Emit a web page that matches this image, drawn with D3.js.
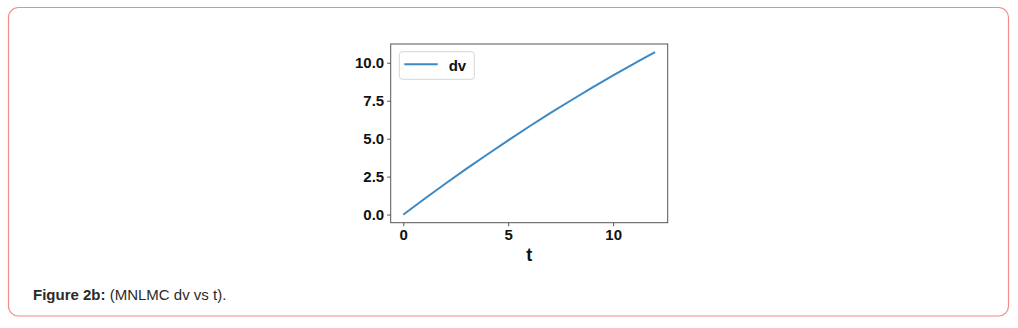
<!DOCTYPE html>
<html>
<head>
<meta charset="utf-8">
<script src="https://cdn.jsdelivr.net/npm/d3@7"></script>
<style>
  html, body { margin: 0; padding: 0; background: #fff; }
  svg { display: block; }
</style>
</head>
<body>
<svg id="chart" width="1018" height="328"></svg>
<script>
// ---- data ----
const tValues  = [0, 1, 2, 3, 4, 5, 6, 7, 8, 9, 10, 11, 12];
const dvValues = [0, 1.03, 2.03, 3.01, 3.96, 4.89, 5.80, 6.68, 7.53, 8.36, 9.17, 9.95, 10.70];
const xTicks = [0, 5, 10];
const yTicks = [0, 2.5, 5, 7.5, 10];
const seriesName = "dv";
const xLabel = "t";
const captionBold = "Figure 2b:";
const captionText = " (MNLMC dv vs t).";

const svg = d3.select("#chart");
const font = "'Liberation Sans', Arial, sans-serif";

// outer rounded frame
svg.append("rect")
  .attr("x", 8.5).attr("y", 7.5).attr("width", 1000).attr("height", 308.5)
  .attr("rx", 10).attr("ry", 10)
  .attr("fill", "#fff").attr("stroke", "#f28b8b").attr("stroke-width", 1.2);

// plot area
const L = 390.7, R = 667.7, T = 44, B = 222.7;
const tMin = d3.min(tValues), tMax = d3.max(tValues);
const vMin = d3.min(dvValues), vMax = d3.max(dvValues);
const xPad = (tMax - tMin) * 0.05, yPad = (vMax - vMin) * 0.05;
const x = d3.scaleLinear().domain([tMin - xPad, tMax + xPad]).range([L, R]);
const y = d3.scaleLinear().domain([vMin - yPad, vMax + yPad]).range([B, T]);

const data = tValues.map((t, i) => ({ t, v: dvValues[i] }));

// line
svg.append("path")
  .datum(data)
  .attr("fill", "none")
  .attr("stroke", "#3a89c5")
  .attr("stroke-width", 2)
  .attr("d", d3.line().x(d => x(d.t)).y(d => y(d.v)).curve(d3.curveMonotoneX));

// axes
const xAxis = d3.axisBottom(x).tickValues(xTicks).tickFormat(d3.format("d")).tickSize(3.5).tickPadding(3);
const yAxis = d3.axisLeft(y).tickValues(yTicks).tickFormat(d3.format(".1f")).tickSize(3.5).tickPadding(3);

const gx = svg.append("g").attr("transform", `translate(0,${B})`).call(xAxis);
const gy = svg.append("g").attr("transform", `translate(${L},0)`).call(yAxis);
[gx, gy].forEach(g => {
  g.select(".domain").remove();
  g.selectAll(".tick line").attr("stroke", "#555");
  g.selectAll(".tick text")
    .attr("fill", "#111")
    .style("font-family", font)
    .style("font-weight", "bold")
    .style("font-size", "15px");
});

// frame
svg.append("rect")
  .attr("x", L).attr("y", T).attr("width", R - L).attr("height", B - T)
  .attr("fill", "none").attr("stroke", "#555").attr("stroke-width", 1);

// x label
svg.append("text")
  .attr("x", (L + R) / 2).attr("y", 261)
  .attr("text-anchor", "middle")
  .attr("fill", "#111")
  .style("font-family", font).style("font-weight", "bold").style("font-size", "18px")
  .text(xLabel);

// legend
const lg = svg.append("g");
lg.append("rect")
  .attr("x", 399.3).attr("y", 51.7).attr("width", 75).attr("height", 27.6)
  .attr("rx", 3).attr("fill", "#fff").attr("stroke", "#d6d6d6").attr("stroke-width", 1);
lg.append("line")
  .attr("x1", 404.3).attr("x2", 437.7).attr("y1", 64.3).attr("y2", 64.3)
  .attr("stroke", "#3a89c5").attr("stroke-width", 2);
lg.append("text")
  .attr("x", 448.7).attr("y", 70.5)
  .attr("fill", "#111")
  .style("font-family", font).style("font-weight", "bold").style("font-size", "15px")
  .text(seriesName);

// caption
const cap = svg.append("text")
  .attr("x", 33).attr("y", 299.5)
  .attr("fill", "#2a2a2a")
  .style("font-family", font).style("font-size", "15px");
cap.append("tspan").style("font-weight", "bold").text(captionBold);
cap.append("tspan").attr("xml:space", "preserve").text(captionText);
</script>
</body>
</html>
